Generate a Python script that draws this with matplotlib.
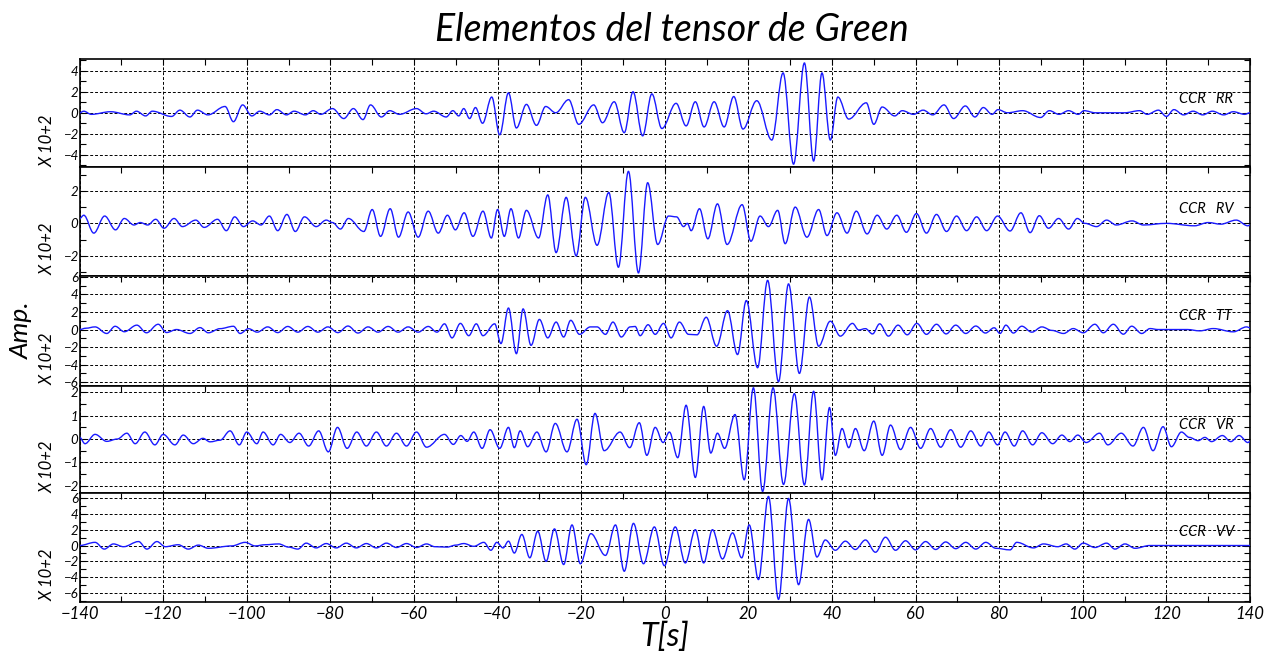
import matplotlib
matplotlib.use("Agg")
import matplotlib.pyplot as plt
from matplotlib.path import Path
from matplotlib.patches import PathPatch
from matplotlib.ticker import MultipleLocator, FixedLocator

# ---- data: extrema (time [s], amplitude x10^2) ----
RR_T = [-140, -139, -137.2, -132.6, -128, -126.4, -124.2, -122.6, -118, -116, -113.6, -111.8, -109.3,
        -105.2, -103.2, -101, -98.8, -96.9, -94.6, -92.8, -90.5, -88.7, -86, -84.1, -82.3, -79.5,
        -76.8, -74.5, -72.2, -70.4, -67.8, -65.8, -63.5, -59.4, -57.1, -55.3, -52.3, -50.7, -49.3,
        -48.1, -46.7, -45.3, -43.6, -41.4, -39.5, -37.4, -35.5, -33.1, -30.7, -28.5, -26.1, -23.0,
        -20.6, -17.0, -14.9, -12.1, -9.7, -7.6, -5.3, -3.1, -0.7, 2.7, 5.1, 7.3, 9.4, 11.8, 14.2,
        16.5, 18.7, 22.0, 25.6, 28.3, 30.8, 33.4, 35.6, 37.6, 39.6, 41.4, 44.0, 48.2, 50.0, 52.0,
        55, 56.8, 59.5, 61.8, 64.1, 66.8, 69.1, 71.9, 74.2, 76.2, 78.3, 79.7, 82, 85.6, 89.9, 92,
        94.3, 96.6, 98.9, 100.3, 103, 110, 113.6, 115.4, 118.1, 120, 121.8, 124.1, 126.4, 128.7,
        131, 133.7, 136, 138.7, 140]
RR_A = [0.0, 0.15, -0.15, 0.1, -0.2, 0.15, -0.3, 0.15, -0.35, 0.25, -0.4, 0.25, -0.2,
        0.6, -0.85, 0.75, -0.3, 0.15, -0.2, 0.3, -0.2, 0.15, -0.2, 0.2, -0.15, 0.4,
        -0.55, 0.4, -0.65, 0.75, -0.4, 0.2, -0.15, 0.4, -0.1, 0.15, -0.4, 0.2, -0.3,
        0.4, -0.55, 0.5, -1.0, 1.5, -2.1, 1.9, -1.45, 0.8, -1.2, 0.6, 0.0, 1.25,
        -1.1, 0.75, -0.95, 1.05, -1.9, 2.0, -2.2, 1.8, -1.5, 0.9, -1.25, 1.05, -1.35, 1.05, -1.35,
        1.55, -1.55, 1.15, -2.6, 3.8, -4.9, 4.75, -4.6, 3.8, -2.6, 1.5, -0.6, 0.95, -1.1, 0.55,
        -0.3, 0.2, -0.15, 0.25, -0.2, 0.75, -0.55, 0.65, -0.4, 0.5, -0.15, 0.3, 0.0, 0.2, -0.45, 0.2,
        -0.15, 0.2, -0.15, 0.2, 0.0, 0.0, 0.2, -0.15, 0.25, -0.35, 0.3, -0.2, 0.15, -0.2,
        0.15, -0.2, 0.1, -0.15, 0.0]

RV_T = [-140, -139, -136.6, -134, -131.4, -129.3, -127, -125.5, -123.7, -121.8, -119.8, -117.4, -115.4,
        -112.2, -110.2, -107, -104.9, -102.9, -100.8, -98.6, -96.6, -94.6, -92.6, -90.4, -88.4, -86.2,
        -83.4, -81, -79.5, -77.6, -75.7, -72, -70, -68, -65.7, -63.7, -61.4, -59, -56.6, -54.2, -52,
        -50.1, -48, -45.9, -43.5, -41.5, -40, -38.4, -36.8, -35, -33.1, -30.2, -28, -26, -23.6, -21.2,
        -19, -16.2, -13.4, -11.1, -8.7, -6.3, -4.1, -1.7, 0.9, 2.8, 4.5, 5.4, 6.3, 8.3, 10.3, 12.6,
        14.9, 18.5, 20.6, 22.8, 24.8, 27, 28.8, 31.2, 34, 36.8, 38.8, 41.2, 43.6, 45.8, 48.4, 50.8,
        53.1, 55.5, 57.8, 60.2, 62.6, 65, 67.4, 69.8, 72.2, 74.6, 77, 79.6, 82.6, 85.2, 87.4, 89.6,
        91.8, 94.2, 96.6, 98.7, 100.5, 103.3, 105.7, 108, 111.8, 114.5, 120, 126.7, 130, 133,
        136.7, 139.5, 140]
RV_A = [0.3, 0.5, -0.6, 0.45, -0.4, 0.3, -0.1, 0.05, -0.1, 0.25, -0.3, 0.3, -0.2,
        0.2, -0.25, 0.25, -0.45, 0.4, -0.2, 0.15, -0.1, 0.45, -0.45, 0.55, -0.5, 0.4,
        -0.2, 0.2, 0.05, -0.35, 0.3, -0.5, 0.85, -0.8, 0.9, -0.85, 0.7, -0.85, 0.75, -0.6, 0.5,
        -0.4, 0.65, -0.8, 0.75, -0.9, 0.85, -0.8, 0.9, -0.9, 0.8, -0.9, 1.75, -1.8, 1.6, -2.0,
        1.6, -1.35, 1.9, -2.7, 3.2, -3.05, 2.5, -1.3, 0.45, 0.4, -0.2, 0.0, -0.45, 0.9, -0.95, 1.2,
        -1.3, 1.15, -1.1, 0.45, -0.2, 0.8, -1.25, 1.0, -0.85, 0.85, -0.75, 0.65, -0.6, 0.75, -0.65, 0.5,
        -0.35, 0.5, -0.55, 0.6, -0.6, 0.55, -0.5, 0.45, -0.45, 0.4, -0.45, 0.45, -0.47, 0.65, -0.57, 0.47,
        -0.3, 0.3, -0.35, 0.3, 0.0, -0.2, 0.2, -0.1, 0.15, -0.1, 0.0, -0.15, 0.05, -0.05,
        0.2, -0.15, -0.1]

TT_T = [-140, -138.5, -136.3, -133.5, -131.5, -129.3, -126.3, -124, -121.2, -119.2, -116.8, -113.6, -111.2,
        -109.2, -106.4, -103.2, -101.6, -99.6, -97.5, -95, -92.6, -90.2, -87.8, -85.4, -83, -80.6, -78.2,
        -75.8, -73.4, -71, -68.6, -66.2, -63.8, -61.4, -59, -56.6, -54.5, -52.7, -50.9, -48.9, -46.9,
        -45.1, -43.5, -40.7, -39.2, -37.4, -35.5, -33.9, -32, -30, -28, -26, -24.2, -22.5, -20.4, -17.8,
        -16.2, -14.2, -12.4, -10.4, -8.3, -7.1, -5.9, -4, -2.3, -0.3, 1.5, 3.5, 5.7, 7.7, 9.9, 12.4, 15,
        17.4, 19.5, 22.2, 24.6, 27.2, 29.6, 32.2, 34.6, 36.8, 39.6, 42, 44.9, 46.4, 48, 49.7, 51.4, 53.5,
        55.8, 58, 60.3, 62.6, 65, 67.3, 69.6, 72, 74.4, 76.7, 78.8, 80.2, 81.6, 83.4, 85.4, 87.8, 90.2,
        92.6, 95.4, 97.7, 100.1, 102.9, 104.9, 107.3, 109.7, 111.7, 114.1, 116.1, 118, 125, 128, 131.2,
        136, 139.2, 140]
TT_A = [0.0, 0.15, 0.3, -0.45, 0.37, -0.25, 0.5, -0.37, 0.6, -0.34, 0.0, -0.45, 0.22,
        -0.37, 0.1, 0.37, -0.45, 0.1, -0.3, 0.3, -0.35, 0.35, -0.3, 0.35, -0.3, 0.3, -0.35,
        0.4, -0.4, 0.3, -0.3, 0.35, -0.3, 0.3, -0.3, 0.35, -0.3, 0.65, -0.95, 0.7, -0.7,
        0.65, -0.7, 0.65, -1.6, 2.45, -2.75, 2.35, -1.8, 1.15, -0.95, 0.85, -0.85, 1.05, -0.55, 0.3,
        0.3, -0.55, 0.85, -0.85, 0.3, 0.35, -0.7, 0.55, -0.55, 0.7, -0.95, 0.85, -0.55, -0.6, 1.4, -1.9, 2.15,
        -2.85, 3.3, -4.35, 5.6, -5.95, 5.2, -5.0, 3.7, -1.9, 0.95, -0.75, 0.7, -0.05, 0.1, -0.5, 0.65, -0.75,
        0.5, -0.6, 0.7, -0.55, 0.6, -0.5, 0.5, -0.45, 0.4, -0.4, 0.2, -0.45, 0.5, -0.4, 0.38, -0.3, 0.3,
        -0.1, -0.45, 0.11, -0.37, 0.6, -0.37, 0.6, -0.53, 0.38, -0.45, 0.11, 0.0, 0.0, -0.15, 0.11,
        -0.26, 0.3, 0.2]

VR_T = [-140, -138.7, -136.3, -133.5, -131, -128.7, -126.7, -124.4, -122, -120, -117.2, -115.2, -112.8,
        -110.5, -108.8, -106.4, -104, -101.8, -100, -97.6, -96.1, -93.7, -91.9, -89.7, -87.5, -85.2,
        -82.8, -80.5, -78.3, -76, -73.7, -71.4, -69, -66.6, -64.2, -61.8, -59.4, -57, -52.7, -50.6,
        -48.8, -47.3, -45.7, -43.7, -41.8, -39.5, -37.4, -36, -34.6, -32.8, -30.6, -28.4, -26.2, -23.4,
        -21, -18.8, -16.7, -14.5, -10.7, -8.4, -6.1, -4.3, -2.3, -0.4, 1.1, 3.1, 5.1, 7.3, 9.3, 11,
        12.6, 14.3, 16.8, 19, 21.2, 23.4, 25.9, 28.4, 31, 33.4, 35.6, 37.6, 39.4, 40.8, 42.4, 44, 45.6,
        47.7, 50, 52, 54, 56.4, 58.8, 61.2, 63.6, 66, 68.4, 70.8, 73.2, 75.6, 77.5, 79.6, 81.4, 83.6,
        85.6, 88, 90.2, 92.8, 95, 96.9, 98.8, 100.8, 104, 106, 109.2, 112, 114.5, 116.8, 119.2, 121.2,
        123.6, 125.5, 127.6, 129.2, 130.8, 133.4, 135.4, 137.4, 139.5, 140]
VR_A = [0.07, -0.2, 0.2, -0.1, 0.0, 0.25, -0.2, 0.3, -0.25, 0.2, -0.25, 0.17, -0.2,
        0.03, -0.12, -0.05, 0.35, -0.25, 0.3, -0.2, 0.3, -0.25, 0.2, -0.15, 0.25, -0.3,
        0.35, -0.55, 0.5, -0.4, 0.3, -0.3, 0.3, -0.3, 0.25, -0.3, 0.3, -0.35, 0.2, -0.23,
        0.15, -0.1, 0.3, -0.4, 0.4, -0.4, 0.5, -0.37, 0.35, -0.33, 0.3, -0.55, 0.67, -0.55,
        0.85, -1.1, 1.1, -0.5, 0.3, -0.37, 0.7, -0.7, 0.5, -0.15, 0.3, -0.8, 1.45, -1.65, 1.4, -0.6,
        0.25, -0.4, 1.05, -1.75, 2.2, -2.25, 2.2, -1.95, 1.95, -1.97, 2.05, -1.75, 1.35, -0.7, 0.45, -0.37, 0.45,
        -0.5, 0.77, -0.7, 0.6, -0.45, 0.5, -0.4, 0.45, -0.35, 0.4, -0.35, 0.35, -0.3, 0.3, -0.25, 0.3, -0.3,
        0.35, -0.25, 0.27, -0.2, 0.17, -0.11, 0.17, -0.15, 0.25, -0.25, 0.25, -0.3, 0.5, -0.5, 0.53, -0.33,
        0.3, 0.07, -0.07, 0.07, -0.11, 0.15, -0.11, 0.15, -0.15, -0.1]

VV_T = [-140, -136.3, -134.1, -131.9, -129.5, -125.9, -123.9, -121.5, -119.5, -116.4, -114, -111.6, -109.2,
        -103.6, -100.4, -98, -95.6, -92.4, -90, -87.8, -85.8, -83.4, -81, -78.6, -76.2, -73.8, -71.4, -69,
        -66.6, -64.2, -61.8, -59.4, -57, -55, -52.1, -50, -48.1, -45.7, -43.3, -41.6, -40.2, -38.7, -37.4,
        -36, -34.2, -32.3, -30.4, -28.4, -26.4, -24.2, -22.2, -20.2, -17.7, -14.2, -11.8, -9.7, -7.5, -5.1,
        -2.5, -0.1, 2.5, 4.9, 7.3, 9.3, 11.4, 13.8, 16.2, 18.4, 20.2, 22.4, 24.8, 27.2, 29.6, 32, 34.4,
        36.4, 38.4, 40.8, 43.2, 45.6, 48, 50.4, 52.8, 55.2, 57.6, 60, 62.4, 64.8, 67.2, 69.6, 72, 74.4,
        76.8, 79.2, 82.6, 84.2, 88.2, 90.6, 94, 96, 98.1, 100.1, 102.9, 105.7, 107.7, 110.1, 112.5, 116,
        140]
VV_A = [0.0, 0.4, -0.45, 0.2, -0.15, 0.5, -0.45, 0.5, -0.15, 0.1, -0.45, 0.05, -0.35,
        -0.05, 0.4, -0.05, 0.1, 0.2, -0.2, -0.45, 0.3, -0.3, 0.25, -0.3, 0.3, -0.3, 0.25, -0.3,
        0.3, -0.25, 0.25, -0.25, 0.2, -0.15, -0.2, 0.05, 0.25, -0.1, 0.4, -0.6, 0.4, -0.3, 0.55,
        -0.95, 1.4, -1.55, 1.8, -2.0, 2.1, -2.4, 2.6, -2.3, 1.5, -1.25, 2.6, -3.25, 2.8, -2.3,
        2.35, -2.55, 2.35, -2.2, 2.0, -2.2, 2.0, -1.7, 1.6, -1.55, 2.6, -4.3, 6.2, -6.8, 5.95, -4.95, 3.3,
        -1.45, 0.7, -0.6, 0.55, -0.5, 0.7, -0.85, 1.05, -0.6, 0.6, -0.55, 0.5, -0.5, 0.45, -0.4, 0.4, -0.45,
        0.4, -0.35, -0.55, 0.4, -0.3, 0.2, -0.15, 0.2, -0.45, 0.3, -0.25, 0.3, -0.45, 0.2, -0.35, 0.0,
        0.0]

PANELS = ["RR", "RV", "TT", "VR", "VV"]
TRACES = [(RR_T, RR_A), (RV_T, RV_A), (TT_T, TT_A), (VR_T, VR_A), (VV_T, VV_A)]
YLIMS = [(-5.2, 5.1), (-3.24, 3.45), (-6.4, 6.1), (-2.33, 2.29), (-7.1, 6.6)]
YMAJOR = [[-4, -2, 0, 2, 4], [-2, 0, 2], [-6, -4, -2, 0, 2, 4, 6], [-2, -1, 0, 1, 2], [-6, -4, -2, 0, 2, 4, 6]]
YMINOR = [1, 1, 1, 0.5, 1]
XTICKS = list(range(-140, 141, 20))

TXT = dict(family=["Lato", "DejaVu Sans"], style="italic", weight="normal", color="black")


def trace_path(ts, amps, k=0.36):
    # smooth curve through the extrema: horizontal tangent at every peak
    verts = [(ts[0], amps[0])]
    codes = [Path.MOVETO]
    for i in range(1, len(ts)):
        t0, a0, t1, a1 = ts[i - 1], amps[i - 1], ts[i], amps[i]
        dt = t1 - t0
        verts += [(t0 + k * dt, a0), (t1 - k * dt, a1), (t1, a1)]
        codes += [Path.CURVE4] * 3
    return Path(verts, codes)


def main():
    fig = plt.figure(figsize=(12.79, 6.61), dpi=100)
    edges = [59.3, 167.3, 276.0, 385.7, 493.3, 601.7]
    left, width = 79.6 / 1279, (1250 - 79.6) / 1279

    for i, name in enumerate(PANELS):
        top, bot = edges[i], edges[i + 1]
        ax = fig.add_axes([left, 1 - bot / 661, width, (bot - top) / 661])
        ts, amps = TRACES[i]
        ax.add_patch(PathPatch(trace_path(ts, amps), fill=False, edgecolor="#1a1aff", lw=1.0, zorder=3))

        ax.set_xlim(-140, 140)
        ax.set_ylim(*YLIMS[i])
        ax.xaxis.set_major_locator(FixedLocator(XTICKS))
        ax.xaxis.set_minor_locator(MultipleLocator(10))
        ax.yaxis.set_major_locator(FixedLocator(YMAJOR[i]))
        ax.yaxis.set_minor_locator(MultipleLocator(YMINOR[i]))
        last = i == len(PANELS) - 1
        ax.tick_params(which="both", direction="in", top=True, right=True, bottom=last,
                       labelbottom=last, colors="black")
        ax.tick_params(which="major", length=4, width=0.8)
        ax.tick_params(which="minor", length=4, width=0.8)
        ax.tick_params(axis="y", labelsize=9.5, pad=1)
        ax.tick_params(axis="x", labelsize=12, pad=3)
        for lab in ax.get_xticklabels() + ax.get_yticklabels():
            lab.set_fontfamily(TXT["family"])
            lab.set_fontstyle("italic")
        ax.grid(True, which="major", color="black", lw=0.7, linestyle=(0, (3, 2)))
        for sp in ax.spines.values():
            sp.set_linewidth(1.2)

        ax.annotate(f"CCR   {name}", xy=(123, 0), xytext=(0, 5), textcoords="offset points",
                    fontsize=10.5, va="bottom", ha="left", **TXT)
        ax.text(-0.027, 0.25, "X 10+2", transform=ax.transAxes, rotation=90,
                ha="center", va="center", fontsize=12, **TXT)

    fig.text(0.525, 0.955, "Elementos del tensor de Green", ha="center", va="center",
             fontsize=27, **TXT)
    fig.text(0.52, 0.036, "T[s]", ha="center", va="center", fontsize=23, **TXT)
    fig.text(0.017, 0.5, "Amp.", ha="center", va="center", rotation=90, fontsize=19, **TXT)

    fig.savefig("out.png", dpi=100)


if __name__ == "__main__":
    main()
